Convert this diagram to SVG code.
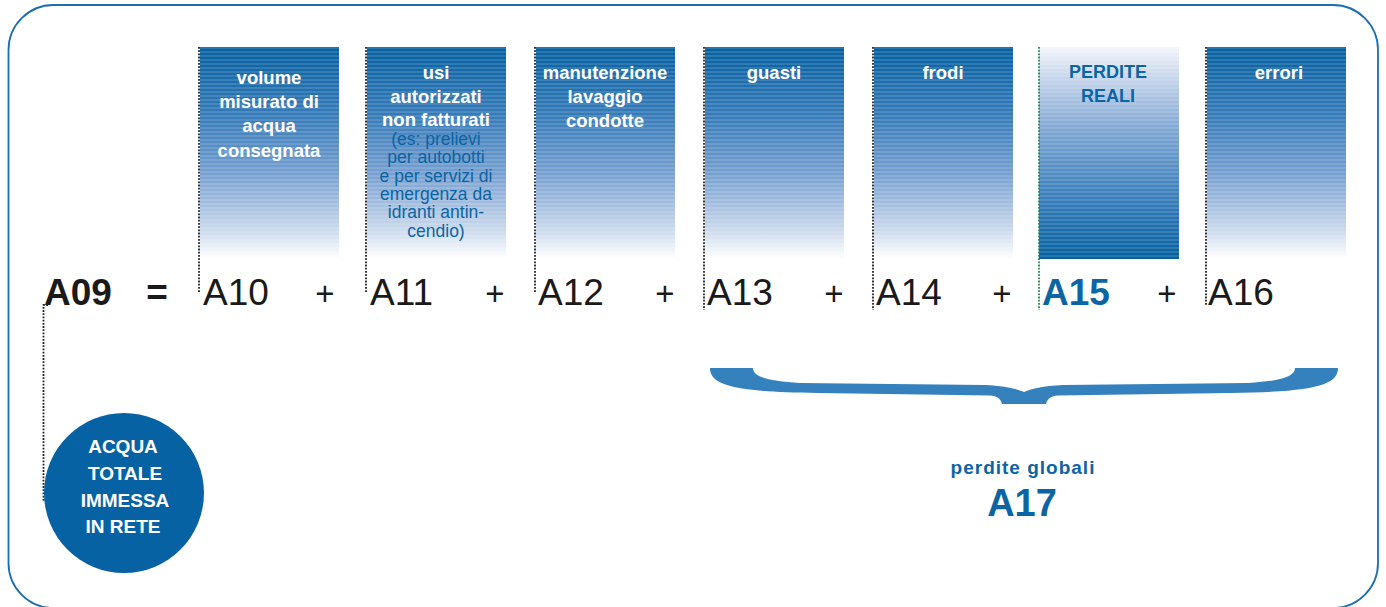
<svg xmlns="http://www.w3.org/2000/svg" width="1386" height="607" viewBox="0 0 1386 607">
<defs>
<linearGradient id="gDown" x1="0" y1="0" x2="0" y2="1">
<stop offset="0" stop-color="#0560a0"/>
<stop offset="0.33" stop-color="#387cba"/>
<stop offset="0.6" stop-color="#77a0d0"/>
<stop offset="0.85" stop-color="#c6d6eb"/>
<stop offset="1" stop-color="#ffffff"/>
</linearGradient>
<linearGradient id="gUp" x1="0" y1="1" x2="0" y2="0">
<stop offset="0" stop-color="#0560a0"/>
<stop offset="0.3" stop-color="#3b7fbb"/>
<stop offset="0.6" stop-color="#7ca4d2"/>
<stop offset="0.85" stop-color="#c4d4ea"/>
<stop offset="1" stop-color="#f3f6fb"/>
</linearGradient>
<pattern id="stripes" x="0" y="47" width="10" height="4" patternUnits="userSpaceOnUse">
<rect x="0" y="0" width="10" height="2" fill="#ffffff" fill-opacity="0.13"/>
</pattern>
</defs>
<style>
.col{fill:url(#gDown)}
.colr{fill:url(#gUp)}
.str{fill:url(#stripes)}
.dot{fill:none;stroke:#222;stroke-width:1.8;stroke-dasharray:1.8 1.4}
.dotg{fill:none;stroke:#1b8a4c;stroke-width:1.8;stroke-dasharray:1.8 1.4}
.hd{font-family:"Liberation Sans",Arial,sans-serif;font-weight:bold;font-size:18.5px;fill:#fff;text-anchor:middle}
.hdb{font-family:"Liberation Sans",Arial,sans-serif;font-weight:bold;font-size:18px;fill:#0b64a3;text-anchor:middle}
.sub{font-family:"Liberation Sans",Arial,sans-serif;font-size:17.5px;fill:#0b64a3;text-anchor:middle}
.eq{font-family:"Liberation Sans",Arial,sans-serif;font-size:37px;fill:#1a1a1a}
.eqb{font-family:"Liberation Sans",Arial,sans-serif;font-size:37px;font-weight:bold;fill:#1a1a1a}
.op{font-family:"Liberation Sans",Arial,sans-serif;font-size:33px;fill:#1a1a1a;text-anchor:middle}
.circ{font-family:"Liberation Sans",Arial,sans-serif;font-weight:bold;font-size:19px;fill:#fff;text-anchor:middle}
</style>
<rect x="8.5" y="5" width="1369.5" height="603" rx="45" ry="45" fill="none" stroke="#1b6fb0" stroke-width="1.8"/>

<g id="col-a10">
<rect class="col" x="200" y="47" width="139" height="212"/>
<rect class="str" x="200" y="47" width="139" height="212"/>
<text class="hd" x="269" y="84">volume</text>
<text class="hd" x="269" y="108">misurato di</text>
<text class="hd" x="269" y="132">acqua</text>
<text class="hd" x="269" y="157">consegnata</text>
</g>
<g id="col-a11">
<rect class="col" x="367" y="47" width="139" height="212"/>
<rect class="str" x="367" y="47" width="139" height="212"/>
<text class="hd" x="436" y="79">usi</text>
<text class="hd" x="436" y="103">autorizzati</text>
<text class="hd" x="436" y="126">non fatturati</text>
<text class="sub" x="436" y="145">(es: prelievi</text>
<text class="sub" x="436" y="163">per autobotti</text>
<text class="sub" x="436" y="182">e per servizi di</text>
<text class="sub" x="436" y="200">emergenza da</text>
<text class="sub" x="436" y="218">idranti antin-</text>
<text class="sub" x="436" y="237">cendio)</text>
</g>
<g id="col-a12">
<rect class="col" x="536" y="47" width="139" height="212"/>
<rect class="str" x="536" y="47" width="139" height="212"/>
<text class="hd" x="605" y="79">manutenzione</text>
<text class="hd" x="605" y="103">lavaggio</text>
<text class="hd" x="605" y="127">condotte</text>
</g>
<g id="col-a13">
<rect class="col" x="705" y="47" width="139" height="212"/>
<rect class="str" x="705" y="47" width="139" height="212"/>
<text class="hd" x="774" y="79">guasti</text>
</g>
<g id="col-a14">
<rect class="col" x="874" y="47" width="139" height="212"/>
<rect class="str" x="874" y="47" width="139" height="212"/>
<text class="hd" x="943" y="79">frodi</text>
</g>
<g id="col-a15">
<rect class="colr" x="1039" y="47" width="140" height="212"/>
<rect class="str" x="1039" y="47" width="140" height="212"/>
<text class="hdb" x="1108" y="78">PERDITE</text>
<text class="hdb" x="1108" y="102">REALI</text>
</g>
<g id="col-a16">
<rect class="col" x="1207" y="47" width="139" height="212"/>
<rect class="str" x="1207" y="47" width="139" height="212"/>
<text class="hd" x="1279" y="79">errori</text>
</g>

<g id="connectors">
<path class="dot" d="M199,47 V293"/>
<path class="dot" d="M366,47 V293"/>
<path class="dot" d="M535,47 V293"/>
<path class="dot" d="M704,47 V310"/>
<path class="dot" d="M873,47 V310"/>
<path class="dotg" d="M1039,47 V310"/>
<path class="dot" d="M1206,47 V306"/>
<path class="dot" d="M48,305 H43.5 V502"/>
</g>

<g id="equation">
<text class="eqb" x="44" y="305">A09</text>
<text class="eqb" x="157" y="305" text-anchor="middle">=</text>
<text class="eq" x="203" y="305">A10</text>
<text class="op" x="325" y="305">+</text>
<text class="eq" x="370" y="305">A11</text>
<text class="op" x="495" y="305">+</text>
<text class="eq" x="538" y="305">A12</text>
<text class="op" x="665" y="305">+</text>
<text class="eq" x="707" y="305">A13</text>
<text class="op" x="834" y="305">+</text>
<text class="eq" x="876" y="305">A14</text>
<text class="op" x="1002" y="305">+</text>
<text class="eqb" x="1042" y="305" style="fill:#0b64a3">A15</text>
<text class="op" x="1167" y="305">+</text>
<text class="eq" x="1208" y="305">A16</text>
</g>

<g id="brace">
<path fill="#3581bd" d="M710,368 L753,368 C753,377 768,381 800,383 L985,385 C1005,386 1018,389 1024,392 C1030,389 1043,386 1063,385 L1248,383 C1280,381 1295,377 1295,368 L1338,368 C1338,385 1315,392 1230,393 L1058,395.5 C1051,396 1047,399 1046,404 L1002,404 C1001,399 997,396 990,395.5 L818,393 C733,392 710,385 710,368 Z"/>
</g>

<g id="total-losses">
<text x="1023" y="474" text-anchor="middle" style="font-family:'Liberation Sans',Arial,sans-serif;font-weight:bold;font-size:19px;letter-spacing:1px;fill:#0b64a3">perdite globali</text>
<text x="1022" y="516" text-anchor="middle" style="font-family:'Liberation Sans',Arial,sans-serif;font-weight:bold;font-size:38px;fill:#0b64a3">A17</text>
</g>

<g id="circle-total">
<circle cx="124" cy="493" r="80" fill="#0762a3"/>
<text class="circ" x="123" y="453">ACQUA</text>
<text class="circ" x="125" y="480">TOTALE</text>
<text class="circ" x="125" y="507">IMMESSA</text>
<text class="circ" x="123" y="533">IN RETE</text>
</g>
</svg>
